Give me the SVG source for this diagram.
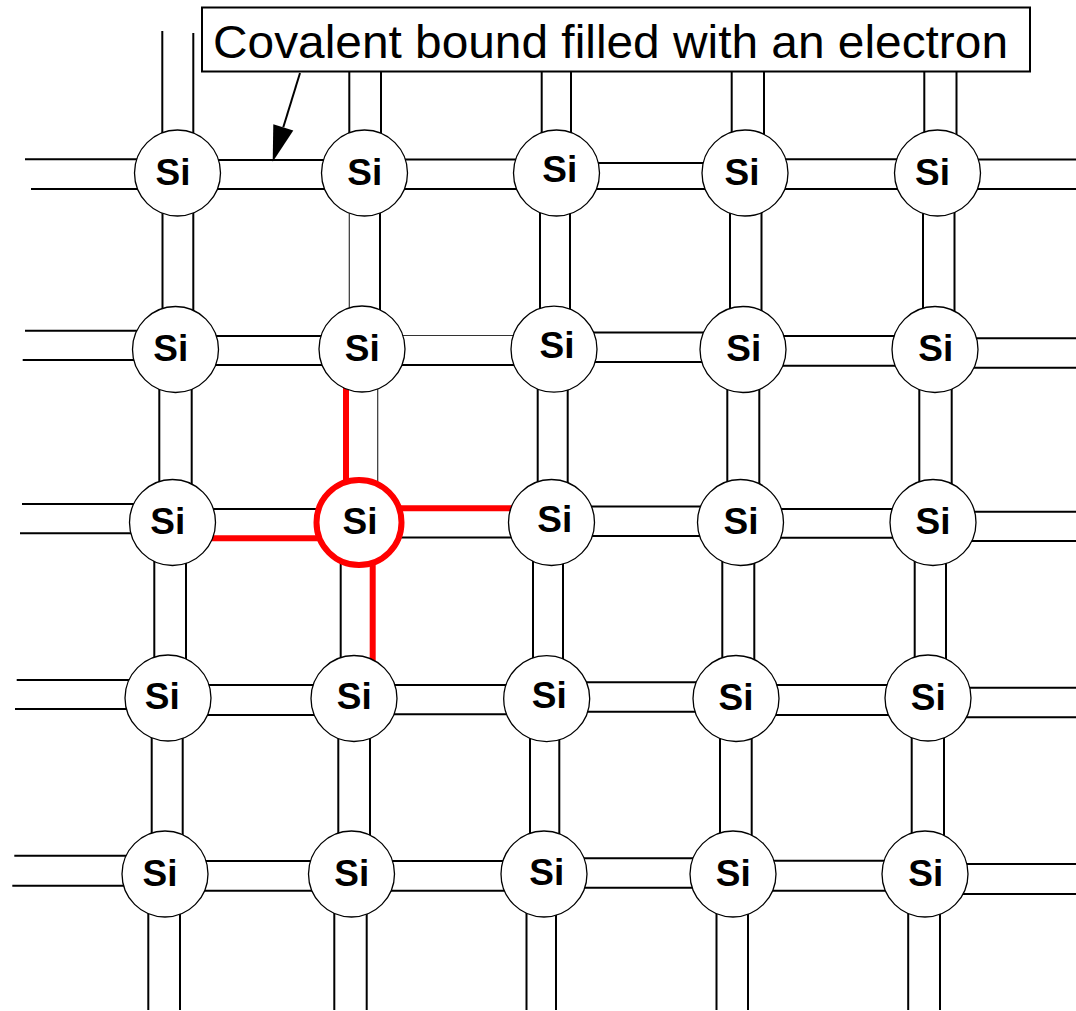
<svg xmlns="http://www.w3.org/2000/svg" width="1076" height="1011" viewBox="0 0 1076 1011">
  <style>
    .b { fill: none; stroke: #000; stroke-width: 2; }
    .t { fill: none; stroke: #333; stroke-width: 1.2; }
    .r { fill: none; stroke: #ff0000; stroke-width: 6; }
    .atom circle { fill: #fff; stroke: #000; stroke-width: 1.3; }
    .atom.hl circle { stroke: #ff0000; stroke-width: 6; }
    .atom text { font-family: "Liberation Sans", Arial, Helvetica, sans-serif; font-weight: bold; font-size: 37px; text-anchor: middle; fill: #000; }
    .label rect { fill: #fff; stroke: #000; stroke-width: 2; }
    .label text { font-family: "Liberation Sans", Arial, Helvetica, sans-serif; font-size: 47px; fill: #000; }
  </style>

  <!-- bonds: each covalent bond is a pair of parallel lines -->
  <g id="bonds">
    <!-- row 1 -->
    <path class="b" d="M25 159.3 H177.5 M31 189 H177.5"/>
    <path class="b" d="M177.5 160 H364.5 M177.5 189 H364.5"/>
    <path class="b" d="M364.5 159.5 H556.5 M364.5 189 H556.5"/>
    <path class="b" d="M556.5 163 H745 M556.5 189 H745"/>
    <path class="b" d="M745 159.3 H937 M745 189 H937"/>
    <path class="b" d="M937 159.5 H1076 M937 189 H1076"/>
    <!-- row 2 -->
    <path class="b" d="M25 330.7 H175.5 M22.7 360 H175.5"/>
    <path class="b" d="M175.5 336 H362 M175.5 365 H362"/>
    <path class="t" d="M362 335.5 H554"/>
    <path class="b" d="M362 365 H554"/>
    <path class="b" d="M554 332.5 H743 M554 362 H743"/>
    <path class="b" d="M743 336 H935 M743 365.7 H935"/>
    <path class="b" d="M935 338.3 H1076 M935 367.7 H1076"/>
    <!-- row 3 -->
    <path class="b" d="M22 504 H172.5 M20 533.3 H172.5"/>
    <path class="b" d="M172.5 509 H359"/>
    <path class="b" d="M359 537.5 H551.5"/>
    <path class="b" d="M551.5 506.5 H740.5 M551.5 536 H740.5"/>
    <path class="b" d="M740.5 509 H933 M740.5 537.7 H933"/>
    <path class="b" d="M933 511.7 H1076 M933 541 H1076"/>
    <!-- row 4 -->
    <path class="b" d="M16.7 680 H168 M15 709 H168"/>
    <path class="b" d="M168 685 H354 M168 715 H354"/>
    <path class="b" d="M354 685 H546.7 M354 714.3 H546.7"/>
    <path class="b" d="M546.7 682.3 H736 M546.7 711.7 H736"/>
    <path class="b" d="M736 685 H928 M736 715 H928"/>
    <path class="b" d="M928 687.7 H1076 M928 717.3 H1076"/>
    <!-- row 5 -->
    <path class="b" d="M14.3 855.7 H165 M12.3 885.7 H165"/>
    <path class="b" d="M165 861 H351.5 M165 890.7 H351.5"/>
    <path class="b" d="M351.5 861 H544 M351.5 890.7 H544"/>
    <path class="b" d="M544 858.3 H733 M544 887.7 H733"/>
    <path class="b" d="M733 860.7 H925 M733 890.7 H925"/>
    <path class="b" d="M925 864 H1076 M925 894 H1076"/>

    <!-- column 1 -->
    <path class="b" d="M162.3 31 V173 M193.3 33 V173"/>
    <path class="b" d="M162.5 173 V349.5 M193.3 173 V349.5"/>
    <path class="b" d="M159.3 349.5 V522.5 M191.7 349.5 V522.5"/>
    <path class="b" d="M154.3 522.5 V698 M186 522.5 V698"/>
    <path class="b" d="M151.7 698 V874 M182.7 698 V874"/>
    <path class="b" d="M148.3 874 V1010 M180 874 V1010"/>
    <!-- column 2 -->
    <path class="b" d="M349.3 72 V173 M381 72 V173"/>
    <path class="t" d="M349.3 173 V349"/>
    <path class="b" d="M380 173 V349"/>
    <path class="t" d="M377.7 349 V522.5"/>
    <path class="b" d="M340.7 522.5 V698.5"/>
    <path class="b" d="M338.3 698.5 V874 M370 698.5 V874"/>
    <path class="b" d="M334.3 874 V1010 M366.7 874 V1010"/>
    <!-- column 3 -->
    <path class="b" d="M541.7 72 V173 M571 72 V173"/>
    <path class="b" d="M540 173 V349 M570 173 V349"/>
    <path class="b" d="M537.7 349 V522.5 M567.7 349 V522.5"/>
    <path class="b" d="M533 522.5 V698.7 M563 522.5 V698.7"/>
    <path class="b" d="M530 698.7 V874 M559.3 698.7 V874"/>
    <path class="b" d="M526.5 874 V1010 M556 874 V1010"/>
    <!-- column 4 -->
    <path class="b" d="M731.7 72 V173 M764 72 V173"/>
    <path class="b" d="M730 173 V349.5 M761.5 173 V349.5"/>
    <path class="b" d="M727.3 349.5 V522.5 M759.3 349.5 V522.5"/>
    <path class="b" d="M722.3 522.5 V698.5 M754.3 522.5 V698.5"/>
    <path class="b" d="M720 698.5 V874 M751.7 698.5 V874"/>
    <path class="b" d="M716.5 874 V1010 M748 874 V1010"/>
    <!-- column 5 -->
    <path class="b" d="M924.3 72 V173 M956.5 72 V173"/>
    <path class="b" d="M923 173 V349.5 M954.5 173 V349.5"/>
    <path class="b" d="M919.3 349.5 V522.5 M951.7 349.5 V522.5"/>
    <path class="b" d="M914.7 522.5 V698 M946 522.5 V698"/>
    <path class="b" d="M911.7 698 V874 M944 698 V874"/>
    <path class="b" d="M908.2 874 V1010 M940 874 V1010"/>

    <!-- highlighted bonds of the central atom -->
    <path class="r" d="M346 349 V522.5"/>
    <path class="r" d="M359 508.3 H551.5"/>
    <path class="r" d="M172.5 538.3 H359"/>
    <path class="r" d="M372.7 522.5 V698.5"/>
  </g>

  <!-- silicon atoms -->
  <g id="si-r1c1" class="atom"><circle cx="177.5" cy="173" r="43"/><text x="173" y="185">Si</text></g>
  <g id="si-r1c2" class="atom"><circle cx="364.5" cy="173" r="43"/><text x="364.7" y="185">Si</text></g>
  <g id="si-r1c3" class="atom"><circle cx="556.5" cy="173" r="43"/><text x="559.7" y="182">Si</text></g>
  <g id="si-r1c4" class="atom"><circle cx="745" cy="173" r="43"/><text x="742" y="185">Si</text></g>
  <g id="si-r1c5" class="atom"><circle cx="937.5" cy="173" r="43"/><text x="932.5" y="185">Si</text></g>

  <g id="si-r2c1" class="atom"><circle cx="175.5" cy="349.5" r="43"/><text x="170.7" y="361">Si</text></g>
  <g id="si-r2c2" class="atom"><circle cx="362" cy="349" r="43"/><text x="362.3" y="361">Si</text></g>
  <g id="si-r2c3" class="atom"><circle cx="554" cy="349.2" r="43"/><text x="557" y="358.3">Si</text></g>
  <g id="si-r2c4" class="atom"><circle cx="743" cy="349.5" r="43"/><text x="743.7" y="361">Si</text></g>
  <g id="si-r2c5" class="atom"><circle cx="935" cy="349.5" r="43"/><text x="935.8" y="361">Si</text></g>

  <g id="si-r3c1" class="atom"><circle cx="172.5" cy="522.5" r="43"/><text x="167.7" y="534">Si</text></g>
  <g id="si-r3c2" class="atom hl"><circle cx="359" cy="522.5" r="42.5"/><text x="360" y="534">Si</text></g>
  <g id="si-r3c3" class="atom"><circle cx="551.5" cy="522.5" r="43"/><text x="554.7" y="531.7">Si</text></g>
  <g id="si-r3c4" class="atom"><circle cx="740.5" cy="522.5" r="43"/><text x="741" y="534">Si</text></g>
  <g id="si-r3c5" class="atom"><circle cx="933" cy="522.5" r="43"/><text x="933" y="534">Si</text></g>

  <g id="si-r4c1" class="atom"><circle cx="168" cy="698" r="43"/><text x="162.3" y="709.3">Si</text></g>
  <g id="si-r4c2" class="atom"><circle cx="354" cy="698.5" r="43"/><text x="354.3" y="709.3">Si</text></g>
  <g id="si-r4c3" class="atom"><circle cx="546.7" cy="698.7" r="43"/><text x="549.2" y="708">Si</text></g>
  <g id="si-r4c4" class="atom"><circle cx="736" cy="698.5" r="43"/><text x="736" y="710">Si</text></g>
  <g id="si-r4c5" class="atom"><circle cx="928" cy="698" r="43"/><text x="928.3" y="710">Si</text></g>

  <g id="si-r5c1" class="atom"><circle cx="165" cy="874" r="43"/><text x="160" y="885.7">Si</text></g>
  <g id="si-r5c2" class="atom"><circle cx="351.5" cy="874" r="43"/><text x="351.7" y="885.7">Si</text></g>
  <g id="si-r5c3" class="atom"><circle cx="544" cy="874" r="43"/><text x="546.7" y="885">Si</text></g>
  <g id="si-r5c4" class="atom"><circle cx="733" cy="874" r="43"/><text x="733.3" y="885.7">Si</text></g>
  <g id="si-r5c5" class="atom"><circle cx="925" cy="874" r="43"/><text x="925.7" y="885.7">Si</text></g>

  <!-- callout label with pointer to a bond -->
  <g id="callout" class="label">
    <rect x="202" y="7.5" width="828" height="64"/>
    <text x="213" y="58" textLength="795" lengthAdjust="spacingAndGlyphs">Covalent bound filled with an electron</text>
  </g>
  <g id="callout-pointer">
    <line x1="300" y1="73" x2="283.3" y2="127.3" stroke="#000" stroke-width="2"/>
    <polygon points="272.7,161.7 273.3,124.2 293.3,130.4" fill="#000"/>
  </g>
</svg>
